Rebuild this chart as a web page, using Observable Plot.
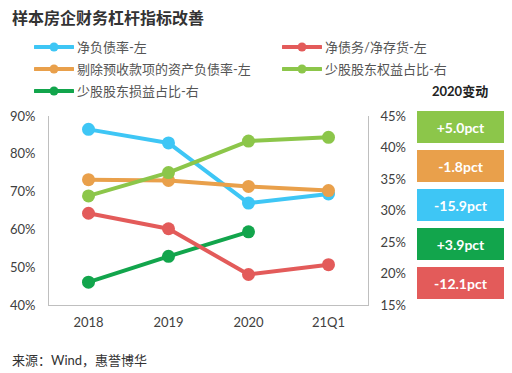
<!DOCTYPE html>
<html>
<head>
<meta charset="utf-8">
<script src="https://cdn.jsdelivr.net/npm/d3@7"></script>
<script src="https://cdn.jsdelivr.net/npm/@observablehq/plot@0.6"></script>
<style>
  body { margin: 0; background: #fff; font-family: Lato, "Noto Sans CJK SC", sans-serif; }
  #wrap { position: relative; width: 512px; height: 373px; overflow: hidden; }
  #title { position: absolute; left: 12px; top: 7px; font-size: 16px; font-weight: bold; color: #333; line-height: 22px; }
  .leg { position: absolute; display: flex; align-items: center; font-size: 13px; color: #555; line-height: 18px; white-space: nowrap; }
  .leg svg { margin-right: 3px; }
  #chg { position: absolute; left: 432px; top: 81px; font-size: 13px; font-weight: bold; color: #222; }
  #boxes { position: absolute; left: 417px; top: 111px; display: flex; flex-direction: column; gap: 7px; }
  .box { width: 87px; height: 32px; display: flex; align-items: center; justify-content: center; color: #fff; font-weight: bold; font-size: 14px; }
  #chart { position: absolute; left: 0; top: 100px; }
  #caption { position: absolute; left: 12px; top: 350px; font-size: 13px; color: #333; }
</style>
</head>
<body>
<div id="wrap">
  <div id="title">样本房企财务杠杆指标改善</div>
  <div id="legend"></div>
  <div id="chg">2020变动</div>
  <div id="boxes"></div>
  <div id="chart"></div>
  <div id="caption">来源：Wind，惠誉博华</div>
</div>
<script>
// ---- data ----
const periods = ["2018", "2019", "2020", "21Q1"];
const netDebtRatio = [86.6, 83.0, 67.1, 69.5];          // 净负债率-左
const netDebtToInventory = [64.4, 60.3, 48.2, 50.8];    // 净债务/净存货-左
const adjAssetLiability = [73.3, 73.1, 71.5, 70.4];     // 剔除预收款项的资产负债率-左
const minorityEquityShare = [32.4, 36.1, 41.1, 41.7];   // 少股股东权益占比-右
const minorityProfitShare = [18.7, 22.8, 26.7];         // 少股股东损益占比-右
const seriesNames = ["净负债率-左", "净债务/净存货-左", "剔除预收款项的资产负债率-左", "少股股东权益占比-右", "少股股东损益占比-右"];
const seriesColors = ["#3ec6f5", "#e35b5a", "#e9a04b", "#8cc64a", "#12a54c"];
const leftTicks = [40, 50, 60, 70, 80, 90];
const rightTicks = [15, 20, 25, 30, 35, 40, 45];
const changeLabels = ["+5.0pct", "-1.8pct", "-15.9pct", "+3.9pct", "-12.1pct"];
const changeColors = ["#8cc64a", "#e9a04b", "#3ec6f5", "#12a54c", "#e35b5a"];

// ---- axis mapping (right axis 15-45 onto left axis 40-90) ----
const L0 = 40, L1 = 90, R0 = 15, R1 = 45;
const toLeft = r => L0 + (r - R0) * (L1 - L0) / (R1 - R0);
const fromLeft = l => R0 + (l - L0) * (R1 - R0) / (L1 - L0);

const seriesValues = [netDebtRatio, netDebtToInventory, adjAssetLiability, minorityEquityShare, minorityProfitShare];
const onRight = [false, false, false, true, true];
const rows = [];
seriesValues.forEach((vals, i) => {
  vals.forEach((v, j) => rows.push({
    series: seriesNames[i], period: periods[j], value: v,
    y: onRight[i] ? toLeft(v) : v
  }));
});
// drawing order
const drawOrder = [4, 0, 2, 3, 1];

// ---- legend ----
const legend = document.getElementById("legend");
const legPos = [[34, 38], [282, 38], [34, 60], [282, 60], [34, 82]];
seriesNames.forEach((name, i) => {
  const d = document.createElement("div");
  d.className = "leg";
  d.style.left = legPos[i][0] + "px";
  d.style.top = legPos[i][1] + "px";
  d.innerHTML = `<svg width="40" height="12"><line x1="1" x2="39" y1="6" y2="6" stroke="${seriesColors[i]}" stroke-width="4" stroke-linecap="round"/><circle cx="20" cy="6" r="4.5" fill="${seriesColors[i]}"/></svg><span>${name}</span>`;
  legend.appendChild(d);
});

// ---- change boxes ----
const boxes = document.getElementById("boxes");
changeLabels.forEach((t, i) => {
  const b = document.createElement("div");
  b.className = "box";
  b.style.background = changeColors[i];
  b.textContent = t;
  boxes.appendChild(b);
});

// ---- chart ----
const marks = [];
drawOrder.forEach(i => {
  const data = rows.filter(r => r.series === seriesNames[i]);
  marks.push(Plot.line(data, {x: "period", y: "y", stroke: seriesColors[i], strokeWidth: 4}));
  marks.push(Plot.dot(data, {x: "period", y: "y", fill: seriesColors[i], r: 6.5}));
});

const chart = Plot.plot({
  width: 512,
  height: 240,
  marginLeft: 48,
  marginRight: 144,
  marginTop: 16,
  marginBottom: 35,
  style: {fontFamily: "Lato, 'Noto Sans CJK SC', sans-serif", fontSize: "13px", color: "#404040", background: "transparent"},
  x: {type: "point", domain: periods, padding: 0.5},
  y: {domain: [L0, L1]},
  marks: [
    Plot.frame({anchor: "left", stroke: "#bfbfbf"}),
    Plot.frame({anchor: "right", stroke: "#bfbfbf"}),
    Plot.frame({anchor: "bottom", stroke: "#bfbfbf"}),
    Plot.axisX({tickSize: 0, tickPadding: 12, label: null, fontSize: 13}),
    Plot.axisY({ticks: leftTicks, tickSize: 0, tickPadding: 13, tickFormat: d => d + "%", label: null, fontSize: 13}),
    Plot.axisY({anchor: "right", ticks: rightTicks.map(toLeft), tickSize: 0, tickPadding: 12,
      tickFormat: d => Math.round(fromLeft(d)) + "%", label: null, fontSize: 13}),
    ...marks
  ]
});
document.getElementById("chart").appendChild(chart);
</script>
</body>
</html>
